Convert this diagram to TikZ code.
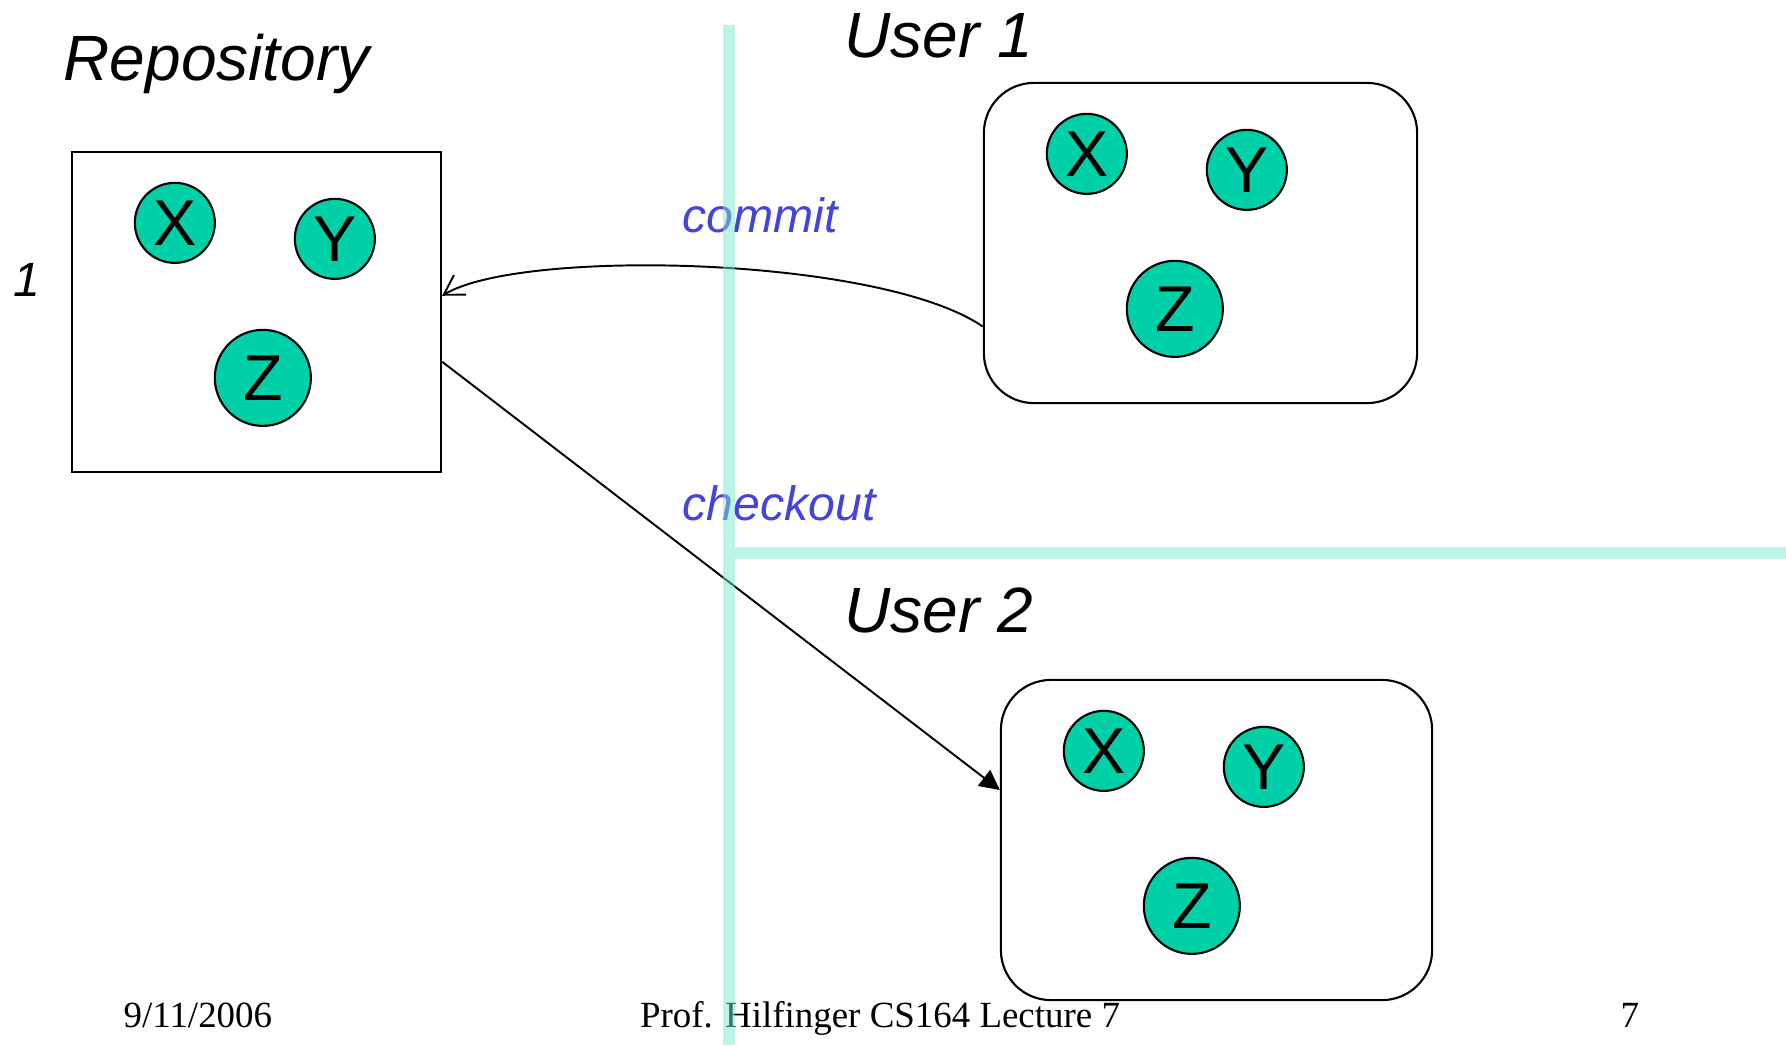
\documentclass[tikz,border=0pt]{standalone}
\usepackage{fontspec}
\setmainfont{Liberation Sans}
\newfontfamily\footfont{Liberation Serif}
\usetikzlibrary{arrows.meta}

\definecolor{itemcol}{RGB}{0,208,168}
\definecolor{actioncol}{RGB}{68,68,220}
\definecolor{divcol}{RGB}{125,229,205}

\tikzset{
  store/.style={draw, line width=0.6pt, minimum height=3.2cm, inner sep=0pt},
  item/.style={circle, draw, line width=0.6pt, fill=itemcol, inner sep=0pt, minimum size=0.8cm, font=\fontsize{18.4}{20}\selectfont},
  title/.style={anchor=base west, inner sep=0pt, font=\itshape\fontsize{18.2}{20}\selectfont},
  action/.style={anchor=base west, inner sep=0pt, text=actioncol, font=\itshape\fontsize{13.7}{15}\selectfont},
  footer/.style={anchor=base, inner sep=0pt, font=\footfont\fontsize{10.5}{12}\selectfont},
  divider/.style={line width=0.12cm, draw=divcol, opacity=0.5}
}

\begin{document}
\begin{tikzpicture}[x=0.01cm,y=-0.01cm]
\useasboundingbox (0,0) rectangle (1786,1045);

\node[store, minimum width=3.69cm] (repo) at (256.5,312) {};
\node[store, minimum width=4.33cm, rounded corners=0.5cm] (u1) at (1200.5,243) {};
\node[store, minimum width=4.31cm, rounded corners=0.5cm] (u2) at (1216.5,840) {};

\foreach \b in {repo,u1,u2} {
    \node[item] (\b-X) at ([shift={(104,72)}]\b.north west) {X};
    \node[item] (\b-Y) at ([shift={(264,88)}]\b.north west) {Y};
    \node[item, minimum size=0.96cm] (\b-Z) at ([shift={(192,227)}]\b.north west) {Z};
}

\node[title] (repotitle) at (63,80) {Repository};
\node[title] (u1title) at (844,57) {User 1};
\node[title] (u2title) at (844,632) {User 2};
\node[action, text=black] (rev) at (13,296) {1};
\node[action] (committxt) at (682,232) {commit};
\node[action] (checkouttxt) at (682,520) {checkout};

\draw[line width=0.55pt, -{Straight Barb[length=1.9mm,width=2.3mm]}] (u1.201) .. controls (880,256) and (520,248) .. (repo.5);
\draw[line width=0.55pt, -{Triangle[length=2mm,width=2mm]}] (repo.-15) -- (u2.167);

\node[footer, anchor=base west] (date) at (123,1027) {9/11/2006};
\node[footer] (course) at (880,1027) {Prof. Hilfinger CS164 Lecture 7};
\node[footer, anchor=base west] (page) at (1620,1027) {7};

\draw[divider] (729,25) -- (729,1045);
\draw[divider] (735,553) -- (1786,553);

\end{tikzpicture}
\end{document}
